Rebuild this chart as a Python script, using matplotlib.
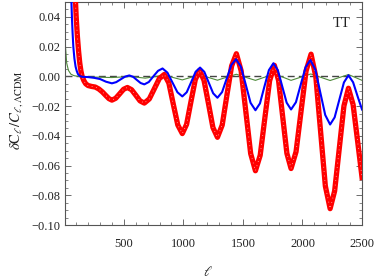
import matplotlib
matplotlib.use("Agg")
import matplotlib.pyplot as plt
from matplotlib.ticker import MultipleLocator, FixedLocator, FuncFormatter

plt.rcParams['font.family'] = ['Liberation Serif', 'DejaVu Serif']
plt.rcParams['mathtext.fontset'] = 'stix'

# Red curve (thick)
ell_red = [70, 80, 90, 100, 110, 120, 130, 140, 150, 165, 180, 200, 230, 260, 290, 320, 350, 375, 400,
           432, 465, 498, 530, 565, 601, 636, 672, 714, 756, 798, 840, 878, 915, 953, 991,
           1027, 1063, 1100, 1136, 1173, 1211, 1248, 1286, 1326, 1365, 1405, 1445,
           1485, 1525, 1565, 1605, 1645, 1684, 1724, 1764, 1799, 1834, 1869, 1904,
           1946, 1988, 2030, 2072, 2112, 2152, 2192, 2232, 2270, 2309, 2348, 2386,
           2425, 2465, 2500]
red = [0.11, 0.082, 0.058, 0.040, 0.027, 0.017, 0.009, 0.0035, 0.0, -0.003, -0.005, -0.0062, -0.0068,
       -0.0072, -0.0085, -0.0105, -0.013, -0.015, -0.016,
       -0.01475, -0.01175, -0.0087, -0.0075, -0.0090, -0.01275, -0.0165, -0.018,
       -0.01518, -0.00835, -0.0015, 0.0013, -0.0045, -0.0186, -0.0327, -0.0385,
       -0.0323, -0.01725, -0.0022, 0.004, -0.0026, -0.0185, -0.0344, -0.041,
       -0.0328, -0.0129, 0.007, 0.0152, 0.0037, -0.02415, -0.052, -0.0635,
       -0.0531, -0.02805, -0.003, 0.0074, -0.0027, -0.0273, -0.0518, -0.062,
       -0.0507, -0.02355, 0.0036, 0.0149, -0.0003, -0.03705, -0.0738, -0.089,
       -0.0771, -0.0485, -0.0199, -0.008, -0.019, -0.045, -0.068]

# Blue curve
ell_blue = [55, 60, 65, 70, 76, 85, 95, 105, 115, 130, 150, 200, 250, 300, 350, 400,
            436, 473, 510, 546, 578, 609, 641, 672, 710, 748, 787, 825,
            866, 908, 950, 991, 1028, 1066, 1103, 1140, 1176, 1213, 1250, 1286,
            1325, 1364, 1403, 1442, 1483, 1524, 1564, 1605, 1643, 1680, 1718, 1756,
            1793, 1830, 1867, 1904, 1945, 1985, 2026, 2066, 2108, 2149, 2191, 2232,
            2270, 2309, 2348, 2386, 2425, 2465, 2500]
blue = [0.065, 0.05, 0.038, 0.029, 0.02, 0.012, 0.0065, 0.0035, 0.0015, 0.0002, -0.0003, -0.0005,
        -0.001, -0.0018, -0.0036, -0.0047,
        -0.0039, -0.00205, -0.0002, 0.0006, -0.0003, -0.0024, -0.0045, -0.0054,
        -0.0038, 0.0, 0.0037, 0.0053, 0.0025, -0.0041, -0.0107, -0.0135,
        -0.0107, -0.0038, 0.0031, 0.0059, 0.003, -0.00425, -0.0114, -0.0144,
        -0.0106, -0.00145, 0.0077, 0.0115, 0.0065, -0.00565, -0.0178, -0.0228,
        -0.0182, -0.007, 0.0042, 0.0088, 0.0042, -0.00675, -0.0177, -0.0223,
        -0.0174, -0.00565, 0.0061, 0.011, 0.0046, -0.0107, -0.026, -0.0324,
        -0.0276, -0.01585, -0.0041, 0.0007, -0.004, -0.014, -0.0223]

# Green curve (thin)
ell_green = [2, 5, 10, 20, 35, 55, 80, 100, 150, 250, 400, 470, 550, 610, 680, 760, 840, 915, 991,
             1066, 1140, 1213, 1286, 1365, 1445, 1525, 1605, 1684, 1764, 1834, 1904, 1988, 2070,
             2152, 2232, 2309, 2386, 2445, 2500]
green = [0.1, 0.045, 0.02, 0.009, 0.004, 0.0015, 0.0005, 0.0002, -0.0003, -0.0005, -0.0008, -0.0005,
         -0.0002, -0.0006, -0.0012, -0.0002, 0.0008, -0.0008, -0.0024, -0.0006, 0.0011, -0.0008,
         -0.0026, -0.0005, 0.0014, -0.0007, -0.0027, -0.0005, 0.0016, -0.0005, -0.0027, -0.0005,
         0.0016, -0.0006, -0.0028, -0.0008, 0.0012, -0.0008, -0.0027]

x_ticks = [500, 1000, 1500, 2000, 2500]
y_ticks = [-0.10, -0.08, -0.06, -0.04, -0.02, 0.00, 0.02, 0.04]

fig = plt.figure(figsize=(3.74, 2.79), dpi=100)
ax = fig.add_axes([0.1725, 0.1935, 0.7955, 0.7993])

ax.axhline(0, color='#444444', lw=1.0, ls=(0, (5, 3)), zorder=1)
ax.plot(ell_green, green, color='#4f8a3c', lw=0.8, zorder=2)
ax.plot(ell_red, red, color='#ff0000', lw=3.8, solid_joinstyle='round', zorder=3)
ax.plot(ell_red, red, color='white', lw=0.6, ls=(0, (0.8, 4.5)), alpha=0.9, zorder=4)
ax.plot(ell_blue, blue, color='#0000ff', lw=1.5, zorder=5)

ax.set_xlim(2, 2500)
ax.set_ylim(-0.10, 0.05)
ax.xaxis.set_major_locator(FixedLocator(x_ticks))
ax.xaxis.set_minor_locator(MultipleLocator(100))
ax.yaxis.set_major_locator(FixedLocator(y_ticks))
ax.yaxis.set_minor_locator(MultipleLocator(0.005))
ax.yaxis.set_major_formatter(FuncFormatter(lambda v, p: ('%.2f' % v).replace('-', '\u2212') if abs(v) > 1e-9 else '0.00'))
ax.xaxis.set_major_formatter(FuncFormatter(lambda v, p: '%d' % v))

ax.tick_params(which='both', direction='in', top=True, right=True, colors='#555555',
               labelcolor='#222222', labelsize=9)
ax.tick_params(which='major', length=4, width=0.6)
ax.tick_params(which='minor', length=2, width=0.5)
ax.tick_params(axis='x', pad=9)
ax.tick_params(axis='y', pad=3)
for s in ax.spines.values():
    s.set_color('#555555')
    s.set_linewidth(0.8)

ax.text(0.96, 0.905, 'TT', transform=ax.transAxes, ha='right', va='center', fontsize=10.5, color='#222222')
fig.text(208 / 374, 1 - 272 / 279, r'$\ell$', ha='center', va='center', fontsize=10, color='#222222')
fig.text(17 / 374, 1 - 110 / 279, r'$\delta\mathrm{C}_{\ell}/C_{\ell,\Lambda\mathrm{CDM}}$', rotation=90,
         ha='center', va='center', fontsize=10.5, color='#222222')

fig.savefig('out.png', dpi=100)
